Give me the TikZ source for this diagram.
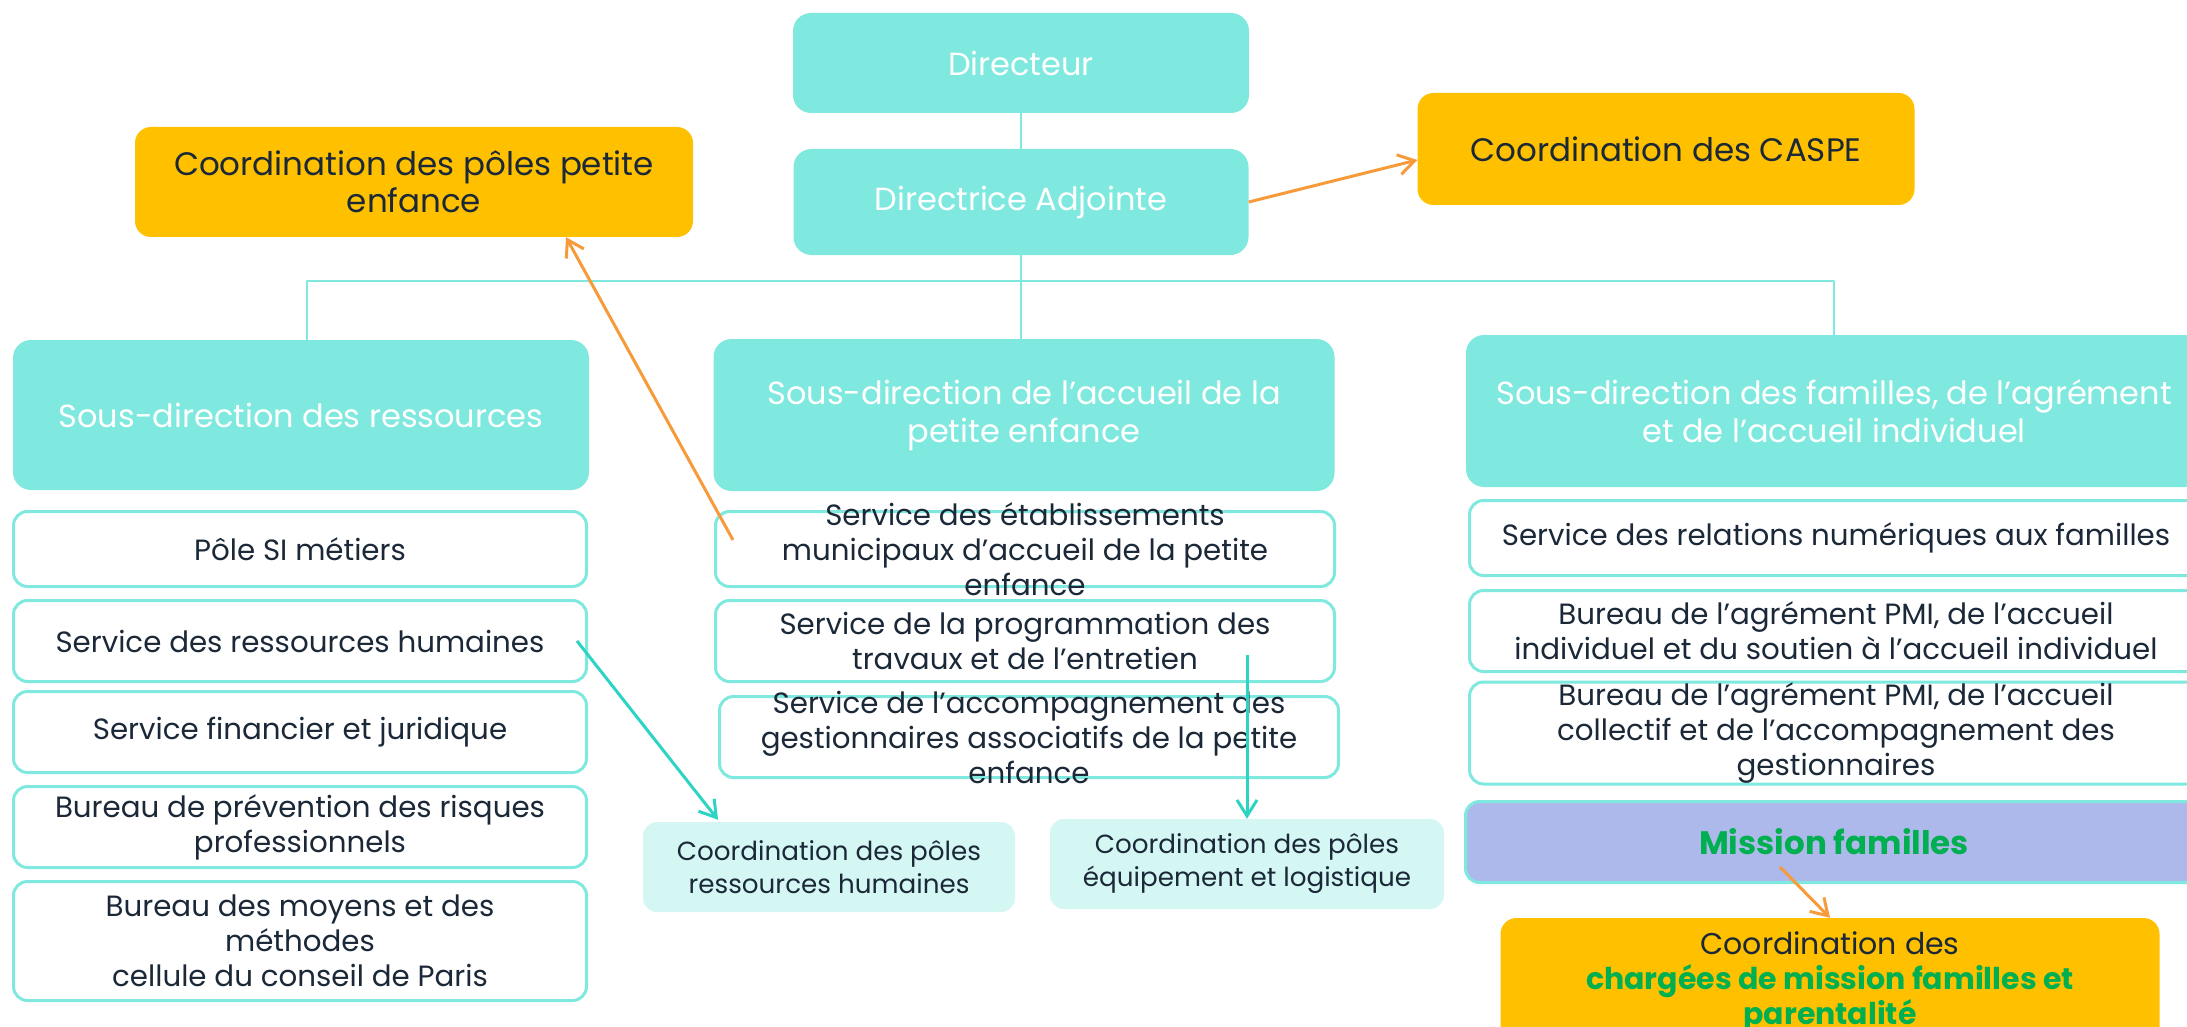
\documentclass[tikz,border=0pt]{standalone}
\usepackage{fontspec}
\setmainfont{Poppins}
\usetikzlibrary{arrows.meta}
\definecolor{turq}{HTML}{7FE9E0}
\definecolor{paleturq}{HTML}{D4F7F4}
\definecolor{gold}{HTML}{FFC000}
\definecolor{lavender}{HTML}{ADB9EA}
\definecolor{mgreen}{HTML}{00B050}
\definecolor{ink}{HTML}{1B2838}
\definecolor{tangerine}{HTML}{F79A3A}
\definecolor{seaturq}{HTML}{2DD4C4}

\begin{document}
\begin{tikzpicture}[x=1pt, y=-1pt, >={Straight Barb[length=16pt,width=20pt]}, line join=round]

\tikzstyle{head}=[rectangle, rounded corners=18pt, fill=turq, text=white, align=center, font=\fontsize{32}{38}\selectfont]
\tikzstyle{coord}=[rectangle, rounded corners=16pt, fill=gold, text=ink, align=center, font=\fontsize{32.5}{37}\selectfont]
\tikzstyle{item}=[rectangle, rounded corners=14pt, draw=turq, line width=3pt, fill=white, text=ink, align=center, font=\fontsize{29.3}{35}\selectfont]
\tikzstyle{pale}=[rectangle, rounded corners=14pt, fill=paleturq, text=ink, align=center, font=\fontsize{26.2}{33}\selectfont]
\tikzstyle{link}=[draw=turq, line width=2pt]
\tikzstyle{orangearr}=[->, draw=tangerine, line width=3pt]
\tikzstyle{tealarr}=[->, draw=seaturq, line width=3pt]

\path[use as bounding box, fill=white] (0,0) rectangle (2187,1027);

\draw (1021,63)  node[head, minimum width=456, minimum height=100] (dir) {Directeur}
      (1021,202) node[head, minimum width=455, minimum height=106] (adj) {Directrice Adjointe}
      (414,182)  node[coord, minimum width=558, minimum height=110] (coordpe) {Coordination des pôles petite\\enfance}
      (1666,149) node[coord, minimum width=497, minimum height=112] (caspe) {Coordination des CASPE};

\draw (301,415)  node[head, minimum width=576, minimum height=150] (sdres) {Sous-direction des ressources}
      (1024,415) node[head, minimum width=621, minimum height=152] (sdacc) {Sous-direction de l’accueil de la\\petite enfance}
      (1834,411) node[head, minimum width=736, minimum height=152] (sdfam) {Sous-direction des familles, de l’agrément\\et de l’accueil individuel};

\draw (300,549)  node[item, minimum width=573, minimum height=75] (pole) {Pôle SI métiers}
      (300,641)  node[item, minimum width=573, minimum height=81] (rh) {Service des ressources humaines}
      (300,732)  node[item, minimum width=573, minimum height=81] (fin) {Service financier et juridique}
      (300,827)  node[item, minimum width=573, minimum height=81] (prev) {Bureau de prévention des risques\\professionnels}
      (300,941)  node[item, minimum width=573, minimum height=119] (moy) {Bureau des moyens et des\\méthodes\\cellule du conseil de Paris};

\draw (1025,549) node[item, minimum width=619, minimum height=75, inner ysep=-16pt] (etab) {Service des établissements\\municipaux d’accueil de la petite\\enfance}
      (1025,641) node[item, minimum width=619, minimum height=81] (prog) {Service de la programmation des\\travaux et de l’entretien}
      (1029,737) node[item, minimum width=619, minimum height=81, inner ysep=-16pt] (accomp) {Service de l’accompagnement des\\gestionnaires associatifs de la petite\\enfance}
      (829,867)  node[pale, minimum width=372, minimum height=90] (crh) {Coordination des pôles\\ressources humaines}
      (1247,864) node[pale, minimum width=394, minimum height=90] (cequip) {Coordination des pôles\\équipement et logistique};

\draw (1836,538) node[item, minimum width=733, minimum height=75] (num) {Service des relations numériques aux familles}
      (1836,631) node[item, minimum width=733, minimum height=81] (agind) {Bureau de l’agrément PMI, de l’accueil\\individuel et du soutien à l’accueil individuel}
      (1836,733) node[item, minimum width=733, minimum height=102, inner ysep=-2pt] (agcol) {Bureau de l’agrément PMI, de l’accueil\\collectif et de l’accompagnement des\\gestionnaires}
      (1834,842) node[item, fill=lavender, minimum width=737, minimum height=81, font=\fontsize{32.5}{38}\bfseries] (mission) {\textcolor{mgreen}{Mission familles}}
      (1830,982) node[coord, minimum width=659, minimum height=128, inner ysep=0pt, font=\fontsize{30}{35}\selectfont] (charg) {Coordination des\\\textcolor{mgreen}{\bfseries chargées de mission familles et}\\\textcolor{mgreen}{\bfseries parentalité}};

\coordinate (busl) at (307,281);
\coordinate (busr) at (1834,281);

\draw[link] (dir) -- (adj);
\draw[link] (adj.south) -- (adj.south |- sdacc.north);
\draw[link] (sdres.north -| busl) -- (busl) -- (busr) -- (busr |- sdfam.north);

\draw[orangearr] (adj.east) -- ([yshift=-11pt]caspe.west);
\draw[orangearr] ([xshift=19pt,yshift=9pt]etab.west) -- ([xshift=152pt]coordpe.south);
\draw[tealarr] ([xshift=-11pt]rh.east) -- ([xshift=-111pt,yshift=2pt]crh.north);
\draw[tealarr] ([xshift=222pt,yshift=-14pt]prog.center) -- (cequip.north);
\draw[orangearr] ([xshift=-54pt,yshift=-25pt]mission.center) -- (charg.north);

\end{tikzpicture}
\end{document}
